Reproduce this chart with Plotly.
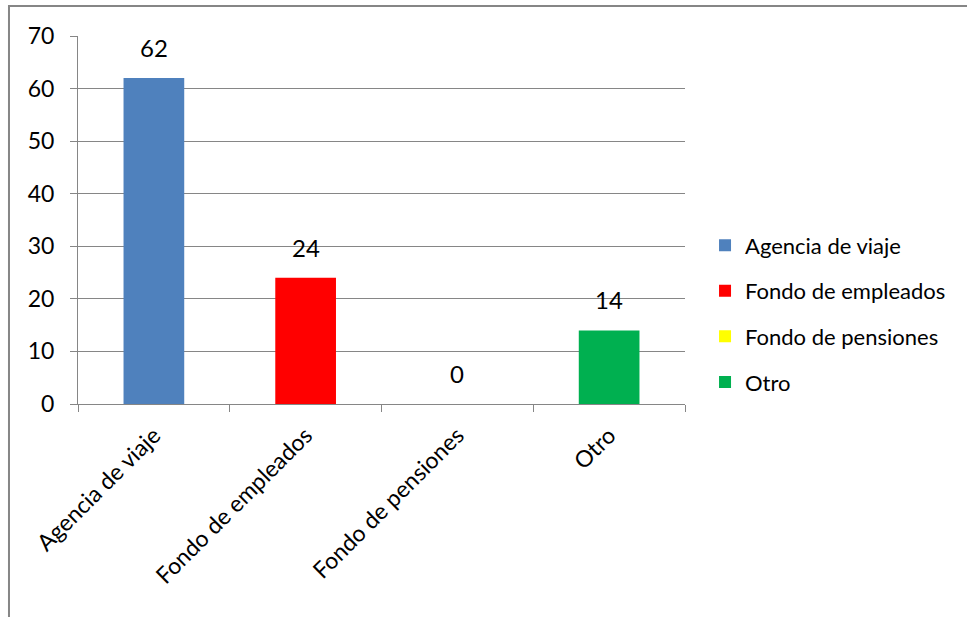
import plotly.graph_objects as go

categories = ["Agencia de viaje", "Fondo de empleados", "Fondo de pensiones", "Otro"]
values = [62, 24, 0, 14]
colors = ["#4F81BD", "#FF0000", "#FFFF00", "#00B050"]
y_ticks = [0, 10, 20, 30, 40, 50, 60, 70]

FONT = "Lato"
GRAY = "#868686"

fig = go.Figure()
for cat, val, col in zip(categories, values, colors):
    fig.add_trace(go.Bar(
        x=[cat], y=[val], name=cat, marker_color=col,
        marker_line_width=0, width=0.4, legendgroup=cat,
    ))
    fig.add_annotation(
        x=cat, y=val, text=str(val), showarrow=False,
        yanchor="bottom", yshift=14,
        font=dict(family=FONT, size=24, color="#000000"),
    )

fig.update_layout(
    width=967, height=617,
    margin=dict(l=78, r=282, t=36, b=213),
    paper_bgcolor="white", plot_bgcolor="white",
    barmode="overlay",
    showlegend=True,
    legend=dict(
        x=1.033, y=0.245, xanchor="left", yanchor="middle",
        font=dict(family=FONT, size=22, color="#000000"),
        tracegroupgap=14, itemwidth=30,
        bgcolor="rgba(0,0,0,0)",
    ),
    font=dict(family=FONT, size=22, color="#000000"),
)

fig.update_xaxes(
    categoryorder="array", categoryarray=categories,
    tickangle=-45, showgrid=False,
    showline=True, linecolor=GRAY, linewidth=1,
    ticks="outside", ticklen=7, tickcolor=GRAY, tickson="boundaries",
    ticklabelstandoff=8,
    tickfont=dict(family=FONT, size=23, color="#000000"),
)
fig.update_yaxes(
    range=[0, 70], tickvals=y_ticks,
    showgrid=True, gridcolor=GRAY, gridwidth=1,
    showline=True, linecolor=GRAY, linewidth=1,
    ticks="outside", ticklen=7, tickcolor=GRAY,
    ticklabelstandoff=11,
    zeroline=False,
    tickfont=dict(family=FONT, size=23, color="#000000"),
)

# outer chart frame
fig.add_shape(
    type="rect", xref="paper", yref="paper",
    x0=-0.1137, x1=1.6, y0=-0.7, y1=1.0815,
    line=dict(color=GRAY, width=2), fillcolor="rgba(0,0,0,0)", layer="below",
)

fig.write_html("out.html")
